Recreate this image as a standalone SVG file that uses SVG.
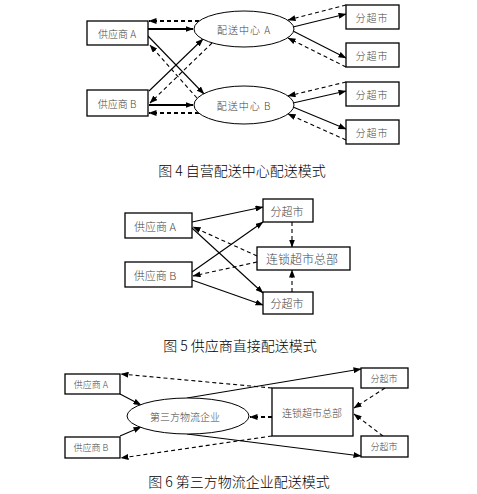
<svg xmlns="http://www.w3.org/2000/svg" width="477" height="494" viewBox="0 0 477 494">
<style>
.bx{fill:#fff;stroke:#000;stroke-width:1.3}
.el{fill:#fff;stroke:#000;stroke-width:1}
.s{fill:none;stroke:#000;stroke-width:1.1}
.st{fill:none;stroke:#000;stroke-width:1.8}
.d{fill:none;stroke:#000;stroke-width:1.1;stroke-dasharray:4 3}
.dt{fill:none;stroke:#000;stroke-width:1.8;stroke-dasharray:4 3}
.t{font-family:"Noto Sans CJK SC","Liberation Sans",sans-serif;font-weight:300;fill:#444;text-anchor:middle;dominant-baseline:central}
.cap{font-family:"Noto Sans CJK SC","Liberation Sans",sans-serif;font-weight:300;fill:#000;text-anchor:middle;font-size:14px}
</style>
<defs>
<marker id="ar" markerWidth="8" markerHeight="6" refX="7.5" refY="3" orient="auto" markerUnits="userSpaceOnUse"><path d="M0,0 L8,3 L0,6 Z" fill="#000"/></marker>
</defs>
<rect width="477" height="494" fill="#fff"/>

<g id="connectors">
<!-- figure 4 -->
<path class="st" d="M148,29 L193,29" marker-end="url(#ar)"/>
<path class="dt" d="M199,21 L149,21" marker-end="url(#ar)"/>
<path class="st" d="M149,105 L193,105" marker-end="url(#ar)"/>
<path class="dt" d="M199,113 L149,113" marker-end="url(#ar)"/>
<path class="s" d="M148,36 L204,94" marker-end="url(#ar)"/>
<path class="d" d="M197,98 L150,45" marker-end="url(#ar)"/>
<path class="s" d="M149,91 L203,39" marker-end="url(#ar)"/>
<path class="d" d="M212,43 L150,103" marker-end="url(#ar)"/>
<path class="s" d="M293,27 L346,14" marker-end="url(#ar)"/>
<path class="d" d="M346,5 L288,20" marker-end="url(#ar)"/>
<path class="s" d="M293,31 L346,58" marker-end="url(#ar)"/>
<path class="d" d="M346,67 L288,38" marker-end="url(#ar)"/>
<path class="s" d="M293,103 L346,91" marker-end="url(#ar)"/>
<path class="d" d="M346,82 L288,96" marker-end="url(#ar)"/>
<path class="s" d="M293,107 L346,129" marker-end="url(#ar)"/>
<path class="d" d="M346,140 L288,114" marker-end="url(#ar)"/>
<!-- figure 5 -->
<path class="s" d="M192,222 L263,207" marker-end="url(#ar)"/>
<path class="d" d="M257,256 L193,227" marker-end="url(#ar)"/>
<path class="s" d="M192,228 L263,293" marker-end="url(#ar)"/>
<path class="s" d="M192,272 L263,222" marker-end="url(#ar)"/>
<path class="d" d="M257,262 L193,276" marker-end="url(#ar)"/>
<path class="s" d="M192,280 L263,305" marker-end="url(#ar)"/>
<path class="d" d="M292,222 L292,247" marker-end="url(#ar)"/>
<path class="d" d="M292,292 L292,270" marker-end="url(#ar)"/>
<!-- figure 6 -->
<path class="s" d="M120,394 L141,405" marker-end="url(#ar)"/>
<path class="s" d="M120,436 L141,427" marker-end="url(#ar)"/>
<path class="d" d="M272,388 L121,374" marker-end="url(#ar)"/>
<path class="d" d="M272,436 L121,458" marker-end="url(#ar)"/>
<path class="s" d="M187,398 L361,369" marker-end="url(#ar)"/>
<path class="s" d="M187,434 L361,456" marker-end="url(#ar)"/>
<path class="dt" d="M272,417 L250,417" marker-end="url(#ar)"/>
<path class="d" d="M385,388 L354,408" marker-end="url(#ar)"/>
<path class="d" d="M383,436 L354,414" marker-end="url(#ar)"/>
</g>

<!-- figure 4 nodes -->
<g id="f4-supA"><rect class="bx" x="87" y="21" width="61" height="24"/><text class="t" x="117" y="33" font-size="10">供应商 A</text></g>
<g id="f4-supB"><rect class="bx" x="87" y="90" width="61" height="26"/><text class="t" x="117" y="103" font-size="10">供应商 B</text></g>
<g id="f4-dcA"><ellipse class="el" cx="244" cy="29" rx="50" ry="18"/><text class="t" x="244" y="29" font-size="10" letter-spacing="1">配送中心 A</text></g>
<g id="f4-dcB"><ellipse class="el" cx="244" cy="105" rx="50" ry="19"/><text class="t" x="244" y="105" font-size="10" letter-spacing="1">配送中心 B</text></g>
<g id="f4-shop1"><rect class="bx" x="346" y="5" width="53" height="24"/><text class="t" x="372" y="17" font-size="10" letter-spacing="1">分超市</text></g>
<g id="f4-shop2"><rect class="bx" x="346" y="43" width="53" height="24"/><text class="t" x="372" y="55" font-size="10" letter-spacing="1">分超市</text></g>
<g id="f4-shop3"><rect class="bx" x="346" y="82" width="53" height="24"/><text class="t" x="372" y="94" font-size="10" letter-spacing="1">分超市</text></g>
<g id="f4-shop4"><rect class="bx" x="346" y="120" width="53" height="24"/><text class="t" x="372" y="132" font-size="10" letter-spacing="1">分超市</text></g>
<text class="cap" x="242" y="176">图 4  自营配送中心配送模式</text>

<!-- figure 5 nodes -->
<g id="f5-supA"><rect class="bx" x="125" y="213" width="67" height="25"/><text class="t" x="155" y="225.5" font-size="11">供应商 A</text></g>
<g id="f5-supB"><rect class="bx" x="125" y="262" width="67" height="25"/><text class="t" x="155" y="274.5" font-size="11">供应商 B</text></g>
<g id="f5-shopTop"><rect class="bx" x="263" y="199" width="50" height="23"/><text class="t" x="287" y="210.5" font-size="11">分超市</text></g>
<g id="f5-hq"><rect class="bx" x="257" y="247" width="93" height="23"/><text class="t" x="302" y="258.5" font-size="12">连锁超市总部</text></g>
<g id="f5-shopBot"><rect class="bx" x="263" y="292" width="50" height="22"/><text class="t" x="287" y="303" font-size="11">分超市</text></g>
<text class="cap" x="240" y="351">图 5 供应商直接配送模式</text>

<!-- figure 6 nodes -->
<g id="f6-supA"><rect class="bx" x="65" y="374" width="55" height="20"/><text class="t" x="91" y="384" font-size="9">供应商 A</text></g>
<g id="f6-supB"><rect class="bx" x="65" y="437" width="55" height="21"/><text class="t" x="91" y="447.5" font-size="9">供应商 B</text></g>
<g id="f6-3pl"><ellipse class="el" cx="188" cy="416" rx="61" ry="18"/><text class="t" x="185" y="416" font-size="10">第三方物流企业</text></g>
<g id="f6-hq"><rect class="bx" x="272" y="388" width="81" height="48"/><text class="t" x="312" y="412" font-size="10">连锁超市总部</text></g>
<g id="f6-shopTop"><rect class="bx" x="361" y="368" width="47" height="20"/><text class="t" x="384" y="378" font-size="9">分超市</text></g>
<g id="f6-shopBot"><rect class="bx" x="361" y="436" width="47" height="21"/><text class="t" x="384" y="446.5" font-size="9">分超市</text></g>
<text class="cap" x="239" y="487">图 6 第三方物流企业配送模式</text>
</svg>
